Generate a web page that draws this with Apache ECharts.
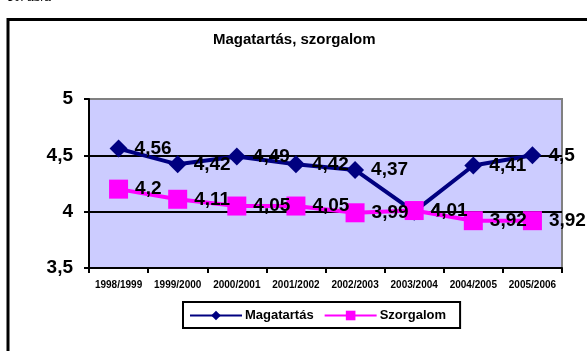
<!DOCTYPE html>
<html>
<head>
<meta charset="utf-8">
<script src="https://cdn.jsdelivr.net/npm/echarts@6/dist/echarts.min.js"></script>
<style>
  html, body { margin: 0; padding: 0; background: #fff; }
  #chart { width: 587px; height: 351px; }
</style>
</head>
<body>
<div id="chart"></div>
<script>
// School years on the category axis
const years = ['1998/1999', '1999/2000', '2000/2001', '2001/2002', '2002/2003', '2003/2004', '2004/2005', '2005/2006'];
// Average conduct grade per year
const magatartas = [4.56, 4.42, 4.49, 4.42, 4.37, 4, 4.41, 4.5];
// Average diligence grade per year
const szorgalom = [4.2, 4.11, 4.05, 4.05, 3.99, 4.01, 3.92, 3.92];
// Value axis range and step
const yMin = 3.5, yMax = 5, yStep = 0.5;

const FONT = 'Arial, "Liberation Sans", sans-serif';
const comma = v => String(v).replace('.', ',');

const chart = echarts.init(document.getElementById('chart'));

const labelStyle = {
  show: true,
  position: 'right',
  distance: 7,
  color: '#000',
  fontFamily: FONT,
  fontWeight: 'bold',
  fontSize: 19,
  formatter: p => comma(p.value)
};

chart.setOption({
  animation: false,
  backgroundColor: '#fff',
  title: {
    text: 'Magatartás, szorgalom',
    left: 208,
    top: 27,
    textStyle: { fontFamily: FONT, fontWeight: 'bold', fontSize: 15, color: '#000' }
  },
  graphic: [
    {
      type: 'text',
      left: 7,
      top: -8,
      style: { text: '30. ábra', font: '12px ' + FONT, fill: '#000' }
    },
    {
      type: 'rect',
      shape: { x: 8, y: 19.5, width: 700, height: 500 },
      style: { fill: 'none', stroke: '#000', lineWidth: 3 },
      z: 100
    }
  ],
  grid: {
    left: 89,
    top: 99,
    width: 473,
    height: 169,
    show: true,
    backgroundColor: '#CCCCFF',
    borderColor: '#808080',
    borderWidth: 2
  },
  legend: {
    left: 183,
    top: 302,
    padding: [7, 14, 6, 6],
    itemGap: 10,
    itemWidth: 52,
    itemHeight: 12,
    borderColor: '#000',
    borderWidth: 2,
    textStyle: { fontFamily: FONT, fontWeight: 'bold', fontSize: 13, color: '#000', padding: [0, 0, 0, -2] },
    data: ['Magatartás', 'Szorgalom']
  },
  xAxis: {
    type: 'category',
    data: years,
    boundaryGap: true,
    axisLine: { lineStyle: { color: '#000', width: 2 } },
    axisTick: { show: true, interval: 0, length: 5, lineStyle: { color: '#000', width: 2 } },
    axisLabel: { interval: 0, color: '#000', fontFamily: FONT, fontWeight: 'bold', fontSize: 10, margin: 12 },
    splitLine: { show: false }
  },
  yAxis: {
    type: 'value',
    min: yMin,
    max: yMax,
    interval: yStep,
    axisLine: { show: true, lineStyle: { color: '#000', width: 2 } },
    axisTick: { show: true, length: 5, lineStyle: { color: '#000', width: 2 } },
    axisLabel: { color: '#000', fontFamily: FONT, fontWeight: 'bold', fontSize: 19, margin: 16, formatter: comma },
    splitLine: { show: true, lineStyle: { color: ['#000', '#000', '#000', '#808080'], width: 2 } }
  },
  series: [
    {
      name: 'Magatartás',
      type: 'line',
      data: magatartas,
      symbol: 'diamond',
      symbolSize: 18,
      itemStyle: { color: '#000080' },
      lineStyle: { color: '#000080', width: 4 },
      label: labelStyle,
      z: 3
    },
    {
      name: 'Szorgalom',
      type: 'line',
      data: szorgalom,
      symbol: 'rect',
      symbolSize: 19,
      itemStyle: { color: '#FF00FF' },
      lineStyle: { color: '#FF00FF', width: 4 },
      label: labelStyle,
      z: 4
    }
  ]
});
</script>
</body>
</html>
